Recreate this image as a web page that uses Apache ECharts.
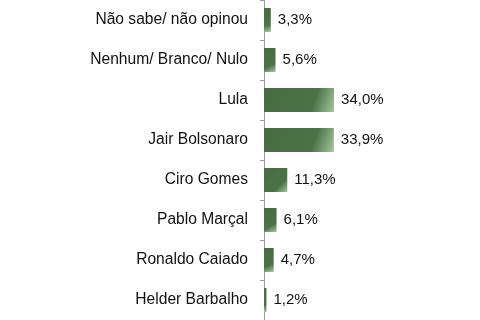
<!DOCTYPE html>
<html><head><meta charset="utf-8">
<script src="https://cdn.jsdelivr.net/npm/echarts@6/dist/echarts.min.js"></script>
<style>html,body{margin:0;padding:0;background:#fff}#c{width:480px;height:320px}</style>
</head><body><div id="c"></div>
<script>
var categories = ["Não sabe/ não opinou","Nenhum/ Branco/ Nulo","Lula","Jair Bolsonaro","Ciro Gomes","Pablo Marçal","Ronaldo Caiado","Helder Barbalho"];
var values = [3.3, 5.6, 34.0, 33.9, 11.3, 6.1, 4.7, 1.2];

var chart = echarts.init(document.getElementById('c'), null, {renderer:'canvas'});
chart.setOption({
  backgroundColor: '#ffffff',
  animation: false,
  grid: {left: 264, top: -5.5, width: 206, height: 327.5, containLabel: false},
  xAxis: {type: 'value', min: 0, max: 100, show: false},
  yAxis: {
    type: 'category', data: categories, inverse: true,
    axisLine: {show: true, lineStyle: {color: '#9a9a9a', width: 1}},
    axisTick: {show: true, length: 4, lineStyle: {color: '#9a9a9a'}},
    axisLabel: {margin: 16, color: '#111111', fontSize: 15.6, fontFamily: 'Liberation Sans, Arial, sans-serif'}
  },
  series: [{
    type: 'bar', data: values, barWidth: 24,
    itemStyle: {color: new echarts.graphic.LinearGradient(0,0,1,1,[
      {offset:0,color:'#486c43'},{offset:0.7,color:'#4b7246'},{offset:1,color:'#a3c89e'}])},
    label: {show: true, position: 'right', distance: 7, color: '#111111', fontSize: 15,
      fontFamily: 'Liberation Sans, Arial, sans-serif',
      formatter: function(p){ return p.value.toFixed(1).replace('.', ',') + '%'; }}
  }]
});
</script></body></html>
